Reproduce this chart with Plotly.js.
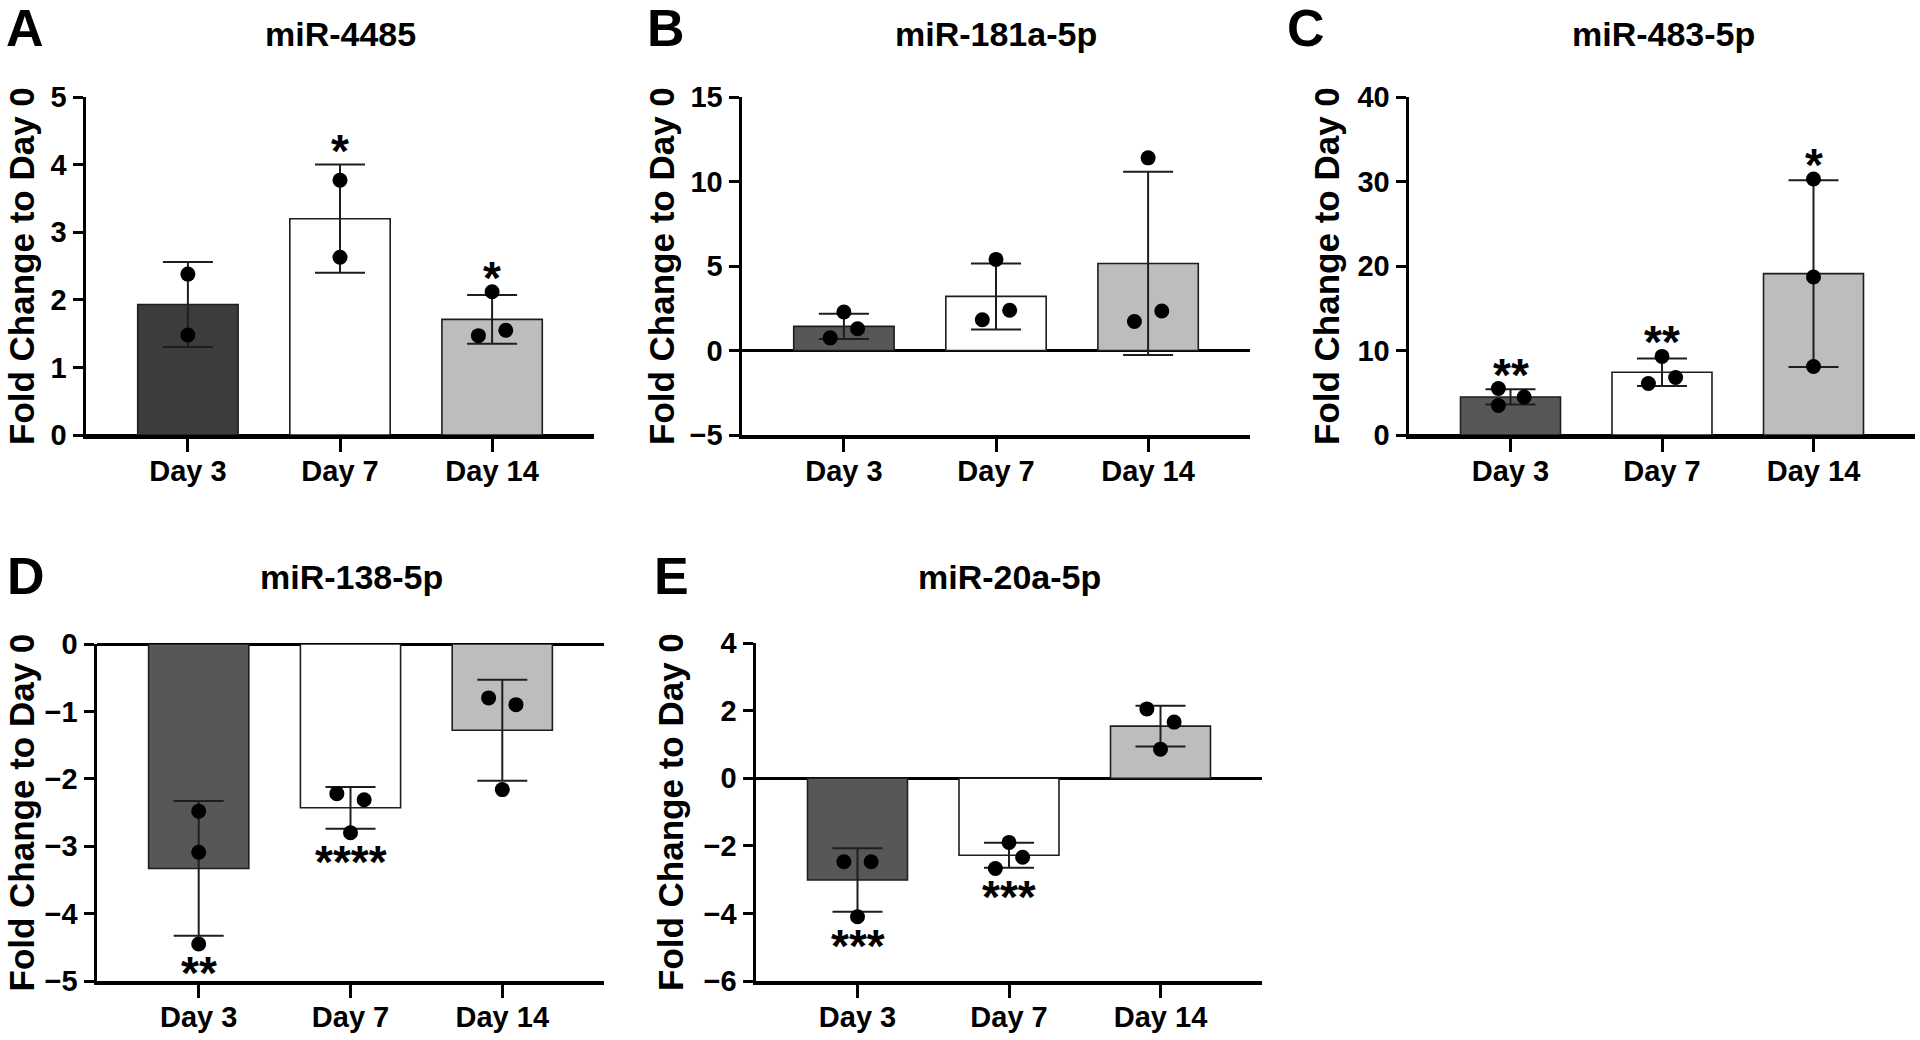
<!DOCTYPE html>
<html>
<head>
<meta charset="utf-8">
<script src="https://cdn.plot.ly/plotly-3.0.1.min.js"></script>
<style>
  html, body { margin: 0; padding: 0; background: #fff; }
  #chart { width: 1920px; height: 1040px; }
</style>
</head>
<body>
<div id="chart"></div>
<script>
const days = ['Day 3', 'Day 7', 'Day 14']

// A  miR-4485
const aMean = [1.93, 3.20, 1.71]
const aSd = [0.63, 0.80, 0.36]
const aPts = [[2.38, 1.48], [3.77, 2.63], [2.12, 1.47, 1.55]]
const aSig = ['', '*', '*']

// B  miR-181a-5p
const bMean = [1.43, 3.20, 5.15]
const bSd = [0.75, 1.95, 5.42]
const bPts = [[2.28, 1.29, 0.75], [5.39, 2.38, 1.82], [11.4, 2.34, 1.72]]
const bSig = ['', '', '']

// C  miR-483-5p
const cMean = [4.5, 7.43, 19.1]
const cSd = [0.9, 1.63, 11.05]
const cPts = [[5.5, 4.5, 3.5], [9.3, 6.8, 6.1], [30.3, 18.7, 8.1]]
const cSig = ['**', '**', '*']

// D  miR-138-5p
const dMean = [-3.33, -2.43, -1.28]
const dSd = [1.0, 0.31, 0.75]
const dPts = [[-2.48, -3.09, -4.45], [-2.22, -2.31, -2.80], [-0.80, -0.90, -2.16]]
const dSig = ['**', '****', '']

// E  miR-20a-5p
const eMean = [-3.01, -2.28, 1.54]
const eSd = [0.94, 0.37, 0.60]
const ePts = [[-2.47, -2.47, -4.10], [-1.90, -2.34, -2.67], [2.05, 1.66, 0.86]]
const eSig = ['***', '***', '']

// horizontal spread of the dots inside a bar (category units), style only
const spread = {
  a: [[0, 0], [0, 0], [0, -0.09, 0.09]],
  b: [[0, 0.09, -0.09], [0, 0.09, -0.09], [0, 0.09, -0.09]],
  c: [[-0.08, 0.09, -0.08], [0, 0.09, -0.09], [0, 0, 0]],
  d: [[0, 0, 0], [-0.09, 0.09, 0], [-0.09, 0.09, 0]],
  e: [[-0.09, 0.09, 0], [0, 0.09, -0.09], [-0.09, 0.09, 0]],
}

const W = 1920
const H = 1040
const FONT = 'Liberation Sans, Arial, sans-serif'

const panels = [
  { key: 'a', letter: 'A', title: 'miR-4485', mean: aMean, sd: aSd, pts: aPts, sig: aSig,
    range: [0, 5], dtick: 1, px: [86, 594], py: [97, 435], dark: '#3c3c3c',
    labelX: 21, letterX: 4, letterY: 28, titleY: 34 },
  { key: 'b', letter: 'B', title: 'miR-181a-5p', mean: bMean, sd: bSd, pts: bPts, sig: bSig,
    range: [-5, 15], dtick: 5, px: [742, 1250], py: [97, 435], dark: '#575757',
    labelX: 661, letterX: 645, letterY: 28, titleY: 34 },
  { key: 'c', letter: 'C', title: 'miR-483-5p', mean: cMean, sd: cSd, pts: cPts, sig: cSig,
    range: [0, 40], dtick: 10, px: [1409, 1915], py: [97, 435], dark: '#575757',
    labelX: 1326, letterX: 1285, letterY: 28, titleY: 34 },
  { key: 'd', letter: 'D', title: 'miR-138-5p', mean: dMean, sd: dSd, pts: dPts, sig: dSig,
    range: [-5, 0], dtick: 1, px: [97, 604], py: [644, 981], dark: '#575757',
    labelX: 21, letterX: 5, letterY: 576, titleY: 577 },
  { key: 'e', letter: 'E', title: 'miR-20a-5p', mean: eMean, sd: eSd, pts: ePts, sig: eSig,
    range: [-6, 4], dtick: 2, px: [756, 1262], py: [643, 981], dark: '#575757',
    labelX: 670, letterX: 652, letterY: 576, titleY: 577 },
]

const data = []
const annotations = []
const layout = {
  width: W,
  height: H,
  margin: { l: 0, r: 0, t: 0, b: 0 },
  paper_bgcolor: '#fff',
  plot_bgcolor: '#fff',
  showlegend: false,
  font: { family: FONT, color: '#000' },
}

panels.forEach((p, i) => {
  const n = i === 0 ? '' : String(i + 1)
  const xa = 'x' + n
  const ya = 'y' + n
  const xs = days.map((d, k) => k)

  data.push({
    type: 'bar',
    x: xs,
    y: p.mean,
    width: 0.66,
    xaxis: xa,
    yaxis: ya,
    marker: {
      color: [p.dark, '#ffffff', '#bdbdbd'],
      line: { color: '#1e1e1e', width: 1.6 },
    },
    error_y: { type: 'data', array: p.sd, visible: true, color: '#1e1e1e', thickness: 2, width: 25 },
    hoverinfo: 'skip',
  })

  const px = []
  const py = []
  p.pts.forEach((grp, k) => {
    grp.forEach((v, j) => {
      px.push(k + spread[p.key][k][j])
      py.push(v)
    })
  })
  data.push({
    type: 'scatter',
    mode: 'markers',
    x: px,
    y: py,
    xaxis: xa,
    yaxis: ya,
    cliponaxis: false,
    marker: { color: '#000', size: 15 },
    hoverinfo: 'skip',
  })

  layout['xaxis' + n] = {
    domain: [p.px[0] / W, p.px[1] / W],
    anchor: ya,
    range: [-0.67, 2.67],
    tickvals: xs,
    ticktext: days,
    ticks: 'outside',
    ticklen: 13,
    tickwidth: 3,
    tickcolor: '#000',
    ticklabelstandoff: -5,
    showline: true,
    linewidth: 3.5,
    linecolor: '#000',
    showgrid: false,
    zeroline: false,
    tickfont: { family: FONT, size: 29, weight: 'bold', color: '#000' },
    fixedrange: true,
  }
  layout['yaxis' + n] = {
    domain: [1 - p.py[1] / H, 1 - p.py[0] / H],
    anchor: xa,
    range: p.range,
    tick0: 0,
    dtick: p.dtick,
    ticks: 'outside',
    ticklen: 10,
    tickwidth: 3,
    tickcolor: '#000',
    showline: true,
    linewidth: 3.5,
    linecolor: '#000',
    showgrid: false,
    zeroline: true,
    zerolinecolor: '#000',
    zerolinewidth: 3,
    tickfont: { family: FONT, size: 29, weight: 'bold', color: '#000' },
    fixedrange: true,
  }

  // panel letter, title and y label
  annotations.push({
    xref: 'paper', yref: 'paper', x: p.letterX / W, y: 1 - p.letterY / H,
    xanchor: 'left', yanchor: 'middle', showarrow: false,
    text: '<b>' + p.letter + '</b>', font: { family: FONT, size: 52, color: '#000' },
  })
  annotations.push({
    xref: 'paper', yref: 'paper', x: (p.px[0] + 102 + 152) / W, y: 1 - p.titleY / H,
    xanchor: 'center', yanchor: 'middle', showarrow: false,
    text: '<b>' + p.title + '</b>', font: { family: FONT, size: 34, color: '#000' },
  })
  annotations.push({
    xref: 'paper', yref: 'paper', x: p.labelX / W, y: 1 - (p.py[0] + p.py[1]) / 2 / H,
    xanchor: 'center', yanchor: 'middle', showarrow: false, textangle: -90,
    text: '<b>Fold Change to Day 0</b>', font: { family: FONT, size: 35, color: '#000' },
  })

  // significance stars, placed beyond the error bar / outermost dot
  p.sig.forEach((s, k) => {
    if (!s) return
    const up = p.mean[k] >= 0
    const ends = p.pts[k].concat([p.mean[k] + p.sd[k], p.mean[k] - p.sd[k]])
    annotations.push({
      xref: xa, yref: ya, x: k,
      y: up ? Math.max(...ends) : Math.min(...ends),
      yshift: up ? 14 : -29,
      xanchor: 'center', yanchor: 'middle', showarrow: false,
      text: '<b>' + s + '</b>', font: { family: FONT, size: 46, color: '#000' },
    })
  })
})

layout.annotations = annotations

Plotly.newPlot('chart', data, layout, { displayModeBar: false, staticPlot: true })
</script>
</body>
</html>
